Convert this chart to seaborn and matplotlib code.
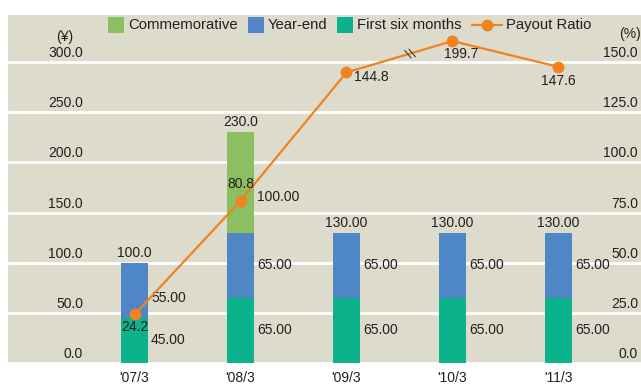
import numpy as np
import pandas as pd
import matplotlib
matplotlib.use("Agg")
import matplotlib.pyplot as plt
import seaborn as sns
from matplotlib.patches import Rectangle
from matplotlib.lines import Line2D
from matplotlib.transforms import IdentityTransform

# ---- data -------------------------------------------------------------
periods = ["'07/3", "'08/3", "'09/3", "'10/3", "'11/3"]
first_six = [45.0, 65.0, 65.0, 65.0, 65.0]
year_end = [55.0, 65.0, 65.0, 65.0, 65.0]
commemorative = [0.0, 100.0, 0.0, 0.0, 0.0]
payout_ratio = [24.2, 80.8, 144.8, 199.7, 147.6]
total_decimals = [1, 1, 2, 2, 2]
left_ticks = [0, 50, 100, 150, 200, 250, 300]
right_ticks = [0, 25, 50, 75, 100, 125, 150]
legend_labels = ["Commemorative", "Year-end", "First six months", "Payout Ratio"]

# ---- style ------------------------------------------------------------
BG = "#dcdbcc"
C_COMM = "#8bbf61"
C_YEAR = "#4f86c6"
C_FIRST = "#0bb28b"
C_PAY = "#f0821f"
TXT = "#231f20"

W, H, DPI = 641, 385, 100
sns.set_theme(style="white")
plt.rcParams["font.family"] = ["Liberation Sans", "DejaVu Sans"]
NUM_FS = 10
LEG_FS = 10.7

fig = plt.figure(figsize=(W / DPI, H / DPI), dpi=DPI)
fig.patch.set_facecolor("white")


def fx(px):
    return px / W


def fy(py):
    return 1 - py / H


# plot area in pixel rows/cols
A_L, A_R, A_T, A_B = 8, 641, 14.5, 363
ax = fig.add_axes([fx(A_L), fy(A_B), (A_R - A_L) / W, (A_B - A_T) / H])
ax.set_facecolor(BG)

px_per_unit = 301 / 300.0
y_top = (A_B - A_T) / px_per_unit
LEFT_MAX, RIGHT_MAX = left_ticks[-1], right_ticks[-1]
ratio_scale = LEFT_MAX / RIGHT_MAX

# ---- stacked bars -----------------------------------------------------
df = pd.DataFrame({
    "period": periods,
    "first": first_six,
    "year": year_end,
    "comm": commemorative,
})
df["base_year"] = df["first"]
df["base_comm"] = df["first"] + df["year"]
df["total"] = df["first"] + df["year"] + df["comm"]

bar_w = 0.255
common = dict(data=df, x="period", width=bar_w, saturation=1, errorbar=None,
              linewidth=0, ax=ax, zorder=2)
sns.barplot(y="first", color=C_FIRST, **common)
sns.barplot(y="year", color=C_YEAR, bottom=df["base_year"].to_numpy(), **common)
sns.barplot(y="comm", color=C_COMM, bottom=df["base_comm"].to_numpy(), **common)

ax.set_ylim(0, y_top)
ax.set_xlim(-1.195, 4.78)
ax.set_yticks(left_ticks)
ax.grid(False)
ax.yaxis.grid(True, color="white", linewidth=2.0)
ax.set_axisbelow(True)
ax.tick_params(axis="y", length=0, labelleft=False)
ax.set_xticks(range(len(periods)), periods)
ax.tick_params(axis="x", length=0, pad=5.5, labelsize=NUM_FS, colors=TXT)
ax.set_xlabel("")
ax.set_ylabel("")
for s in ax.spines.values():
    s.set_visible(False)

# left-axis labels sit just above their gridlines
ytr = ax.get_yaxis_transform()
for v in left_ticks:
    ax.annotate(f"{v:.1f}", xy=((83 - A_L) / (A_R - A_L), v), xycoords=ytr,
                xytext=(0, 5), textcoords="offset pixels", ha="right",
                va="baseline", fontsize=NUM_FS, color=TXT, annotation_clip=False)
ax.annotate("(¥)", xy=((65 - A_L) / (A_R - A_L), LEFT_MAX), xycoords=ytr,
            xytext=(0, 25), textcoords="offset pixels", ha="center",
            va="center", fontsize=NUM_FS, color=TXT, annotation_clip=False)

# totals above bars
for i, (tot, dec) in enumerate(zip(df["total"], total_decimals)):
    ax.annotate(f"{tot:.{dec}f}", xy=(i, tot), xytext=(0, 6),
                textcoords="offset pixels", ha="center", va="baseline",
                fontsize=NUM_FS, color=TXT, zorder=6)

# segment values to the right of each bar
nudge = {("year", 0): -8, ("comm", 1): -15}
for key, base in (("first", None), ("year", "base_year"), ("comm", "base_comm")):
    for i in range(len(df)):
        val = df[key].iloc[i]
        if val <= 0:
            continue
        b = 0.0 if base is None else df[base].iloc[i]
        ax.annotate(f"{val:.2f}", xy=(i + bar_w / 2, b + val / 2),
                    xytext=(3, nudge.get((key, i), 0)),
                    textcoords="offset pixels", ha="left", va="center",
                    fontsize=NUM_FS, color=TXT, zorder=6)

# ---- payout ratio line (right axis) ----------------------------------
ax2 = ax.twinx()
ax2.set_ylim(0, y_top / ratio_scale)


def on_axis(v, cap=RIGHT_MAX, squeeze=0.21):
    """Values above the axis top are compressed past an axis break."""
    return v if v <= cap else cap + (v - cap) * squeeze


shown = [on_axis(v) for v in payout_ratio]
xpos = np.arange(len(periods))
sns.lineplot(x=xpos, y=shown, ax=ax2, color=C_PAY, linewidth=1.6,
             marker="o", markersize=8.5, markeredgewidth=0, zorder=5)
ax2.set_xlim(ax.get_xlim())
ax2.set_yticks([])
ax2.set_ylabel("")
ax2.grid(False)
ax2.patch.set_visible(False)
for s in ax2.spines.values():
    s.set_visible(False)

ytr2 = ax2.get_yaxis_transform()
for v in right_ticks:
    ax2.annotate(f"{v:.1f}", xy=((638 - A_L) / (A_R - A_L), v), xycoords=ytr2,
                 xytext=(0, 5), textcoords="offset pixels", ha="right",
                 va="baseline", fontsize=NUM_FS, color=TXT, annotation_clip=False)
ax2.annotate("(%)", xy=((630 - A_L) / (A_R - A_L), RIGHT_MAX), xycoords=ytr2,
             xytext=(0, 28), textcoords="offset pixels", ha="center",
             va="center", fontsize=NUM_FS, color=TXT, annotation_clip=False)

ratio_offsets = [(0, -13, "center"), (0, 17, "center"), (8, -5, "left"),
                 (9, -13, "center"), (0, -14, "center")]
for i, (v, s) in enumerate(zip(payout_ratio, shown)):
    dx, dy, ha = ratio_offsets[i]
    ax2.annotate(f"{v:.1f}", xy=(i, s), xytext=(dx, dy),
                 textcoords="offset pixels", ha=ha, va="center",
                 fontsize=NUM_FS, color=TXT, zorder=7)

# axis-break marks on the segment that runs off the scale
brk = next(i for i, v in enumerate(payout_ratio) if v > RIGHT_MAX)
t = 0.6
p0 = ax2.transData.transform((brk - 1, shown[brk - 1]))
p1 = ax2.transData.transform((brk, shown[brk]))
pm = p0 + t * (p1 - p0)
d = (p1 - p0) / np.hypot(*(p1 - p0))
ang = np.deg2rad(-50)
perp = np.array([np.cos(ang), np.sin(ang)])
for k in (-2.2, 2.2):
    c = pm + d * k
    a, b = c - perp * 5, c + perp * 5
    ax2.add_line(Line2D([a[0], b[0]], [a[1], b[1]], transform=IdentityTransform(),
                        color="#3a3a3a", linewidth=0.8, zorder=8))

# ---- legend along the top --------------------------------------------
renderer = fig.canvas.get_renderer()
x = 108
yc = 25
items = [("patch", C_COMM), ("patch", C_YEAR), ("patch", C_FIRST), ("line", C_PAY)]
for (kind, color), label in zip(items, legend_labels):
    if kind == "patch":
        fig.add_artist(Rectangle((fx(x), fy(yc + 8)), 16 / W, 16 / H,
                                 transform=fig.transFigure, facecolor=color,
                                 edgecolor="none"))
        x += 16
    else:
        fig.add_artist(Line2D([fx(x), fx(x + 30)], [fy(yc), fy(yc)],
                              transform=fig.transFigure, color=color, linewidth=1.6))
        fig.add_artist(Line2D([fx(x + 15)], [fy(yc)], transform=fig.transFigure,
                              marker="o", markersize=8.5, markeredgewidth=0,
                              color=color, linestyle="none"))
        x += 30
    txt = fig.text(fx(x + 4), fy(yc), label, ha="left", va="center",
                   fontsize=LEG_FS, color=TXT)
    bb = txt.get_window_extent(renderer)
    x = bb.x1 + 10

fig.savefig("out.png", dpi=DPI, facecolor="white")
